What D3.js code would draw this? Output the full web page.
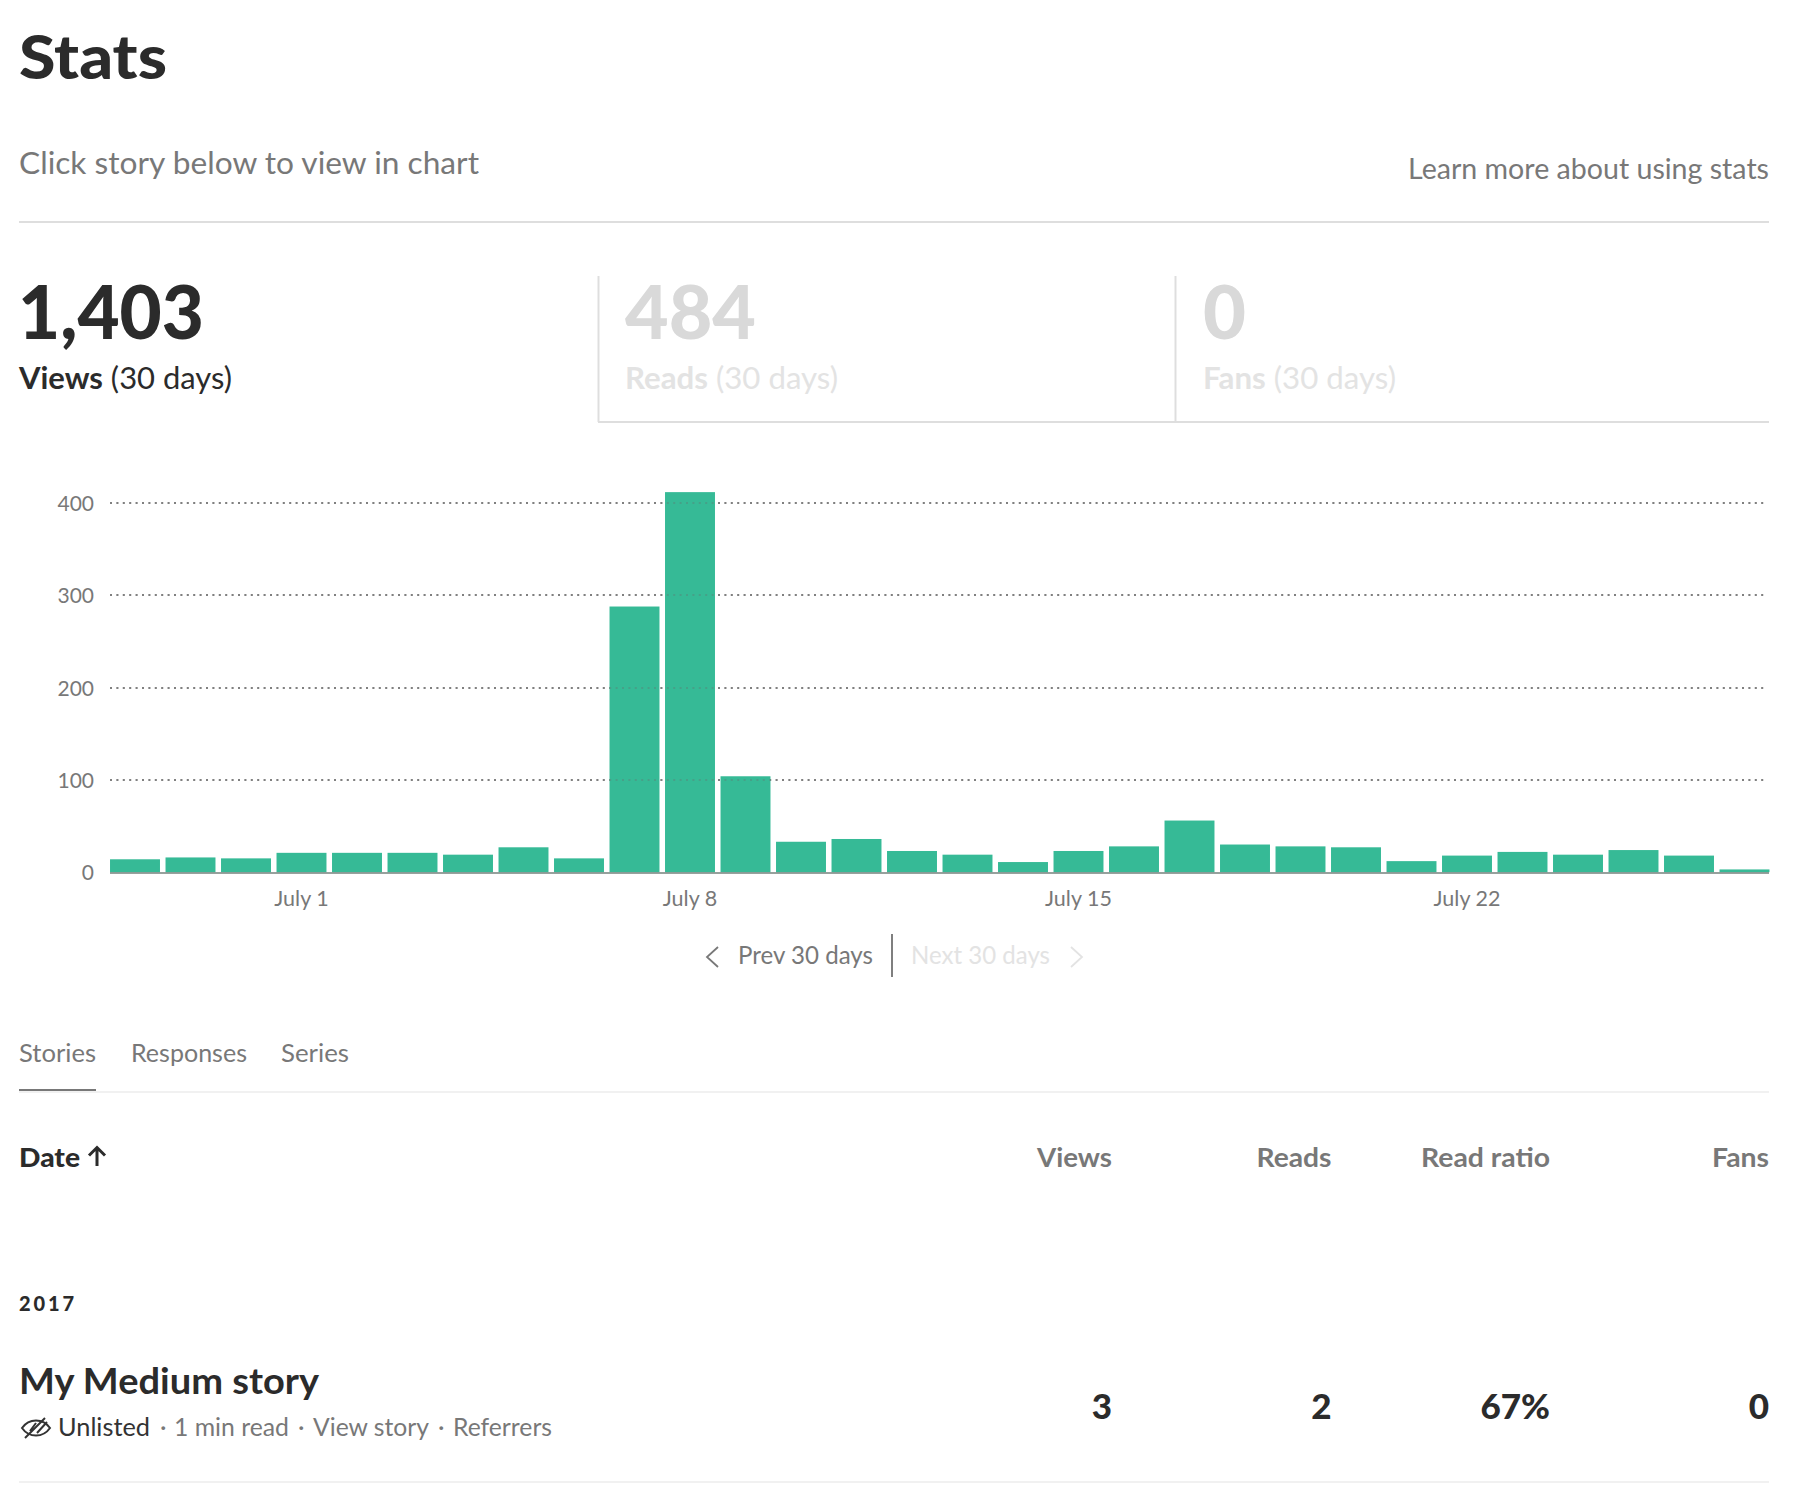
<!DOCTYPE html>
<html>
<head>
<meta charset="utf-8">
<script src="https://d3js.org/d3.v7.min.js"></script>
<style>
html,body{margin:0;padding:0;background:#fff;}
svg{display:block;}
text{font-family:Lato,"Open Sans",sans-serif;}
</style>
</head>
<body>
<script>
const days = ["June 28","June 29","June 30","July 1","July 2","July 3","July 4","July 5","July 6","July 7","July 8","July 9","July 10","July 11","July 12","July 13","July 14","July 15","July 16","July 17","July 18","July 19","July 20","July 21","July 22","July 23","July 24","July 25","July 26","July 27"];
const views = [14,16,15,21,21,21,19,27,15,288,412,104,33,36,23,19,11,23,28,56,30,28,27,12,18,22,19,24,18,3];
const yTicks = [0,100,200,300,400];
const xTicks = ["July 1","July 8","July 15","July 22"];
const tabs = ["Stories","Responses","Series"];
const columns = ["Views","Reads","Read ratio","Fans"];
const storyValues = ["3","2","67%","0"];

const W = 1806, H = 1486;
const DARK = "#2b2b2b", GREY = "#787878", FAINT = "#e3e3e3", RULE = "#dedede", GREEN = "#36ba96";

const svg = d3.select("body").append("svg").attr("width", W).attr("height", H).attr("viewBox", `0 0 ${W} ${H}`);

function label(s, x, y, size, fill, opt = {}) {
  const t = svg.append("text").attr("x", x).attr("y", y).text(s)
    .attr("font-size", size).attr("fill", fill)
    .attr("font-weight", opt.weight || 400)
    .attr("text-anchor", opt.anchor || "start");
  if (opt.width) t.attr("textLength", opt.width).attr("lengthAdjust", "spacingAndGlyphs");
  return t;
}
function rule(x1, y1, x2, y2, color, w = 2, op = 1) {
  svg.append("line").attr("x1", x1).attr("y1", y1).attr("x2", x2).attr("y2", y2)
    .attr("stroke", color).attr("stroke-width", w).attr("stroke-opacity", op);
}
function mixed(strong, rest, x, y, size, fill, width) {
  const t = label("", x, y, size, fill);
  t.append("tspan").attr("font-weight", 700).text(strong);
  t.append("tspan").text(rest);
  t.attr("textLength", width).attr("lengthAdjust", "spacingAndGlyphs");
}

// Header
label("Stats", 19, 79, 60, DARK, {weight: 900, width: 148});
label("Click story below to view in chart", 19, 174, 30, GREY, {width: 460});
label("Learn more about using stats", 1408, 179, 29, GREY, {width: 361});
rule(19, 222, 1769, 222, RULE);

// Stat panels
rule(598.5, 276, 598.5, 422, RULE);
rule(1175.5, 276, 1175.5, 422, RULE);
rule(598, 422, 1769, 422, RULE);
label("1,403", 18, 339, 75, DARK, {weight: 900, width: 186});
label("484", 625, 339, 75, "#d9d9d9", {weight: 900, width: 131});
label("0", 1203, 339, 75, "#d9d9d9", {weight: 900, width: 43});
mixed("Views", " (30 days)", 19, 389, 30, DARK, 213);
mixed("Reads", " (30 days)", 625, 389, 30, FAINT, 213);
mixed("Fans", " (30 days)", 1203, 389, 30, FAINT, 193);

// Chart
const x = d3.scaleBand().domain(days).range([107.25, 1772.25]).paddingInner(0.1).paddingOuter(0.05);
const y = d3.scaleLinear().domain([0, 400]).range([872.2, 503.2]);

function drawGrid(g, color) {
  g.selectAll("line").data(yTicks.filter(d => d > 0)).join("line")
    .attr("x1", 110).attr("x2", 1767)
    .attr("y1", d => Math.round(y(d))).attr("y2", d => Math.round(y(d)))
    .attr("stroke", color).attr("stroke-width", 2).attr("stroke-dasharray", "2 4.4");
}
drawGrid(svg.append("g"), "#8a8a8a");

svg.append("g").selectAll("rect").data(days).join("rect")
  .attr("x", d => x(d)).attr("width", x.bandwidth())
  .attr("y", (d, i) => y(views[i])).attr("height", (d, i) => y(0) - y(views[i]))
  .attr("fill", GREEN);

drawGrid(svg.append("g").attr("opacity", 0.3), "#6a6a6a");

const axisY = svg.append("g").attr("transform", "translate(94,-1.5)")
  .call(d3.axisLeft(y).tickValues(yTicks).tickSize(0).tickPadding(0));
axisY.select(".domain").remove();
axisY.selectAll("text").attr("font-size", 21).attr("fill", GREY).attr("dy", "0.42em").style("font-family", "Lato");

rule(110, 873, 1769, 873, "#5f6f69", 2, 0.65);
const axisX = svg.append("g").attr("transform", "translate(0,871)")
  .call(d3.axisBottom(x).tickValues(xTicks).tickSize(0).tickPadding(20));
axisX.select(".domain").remove();
axisX.selectAll("text").attr("font-size", 21.5).attr("fill", GREY).style("font-family", "Lato");

// Pager
label("Prev 30 days", 738, 964, 25, GREY, {width: 135});
label("Next 30 days", 911, 964, 25, FAINT, {width: 139});
rule(892, 934, 892, 977, "#7f7f7f", 2);
svg.append("path").attr("d", "M718 947 L707 957 L718 967").attr("fill", "none").attr("stroke", GREY).attr("stroke-width", 1.8);
svg.append("path").attr("d", "M1071 947 L1082 957 L1071 967").attr("fill", "none").attr("stroke", FAINT).attr("stroke-width", 1.8);

// Tabs
const tabX = [19, 131, 281], tabW = [77, 116, 68];
tabs.forEach((t, i) => label(t, tabX[i], 1062, 25, GREY, {width: tabW[i]}));
rule(19, 1092, 1769, 1092, "#f1f1f1");
rule(19, 1090, 96, 1090, GREY, 2);

// Table header
label("Date", 19, 1167, 27, DARK, {weight: 900, width: 61});
svg.append("path").attr("d", "M97 1166 V1147.5 M89 1155.5 L97 1147.5 L105 1155.5").attr("fill", "none").attr("stroke", DARK).attr("stroke-width", 3);
const colRight = [1112, 1331.5, 1550, 1769];
const colW = [75, 75, 129, 57];
columns.forEach((c, i) => label(c, colRight[i], 1167, 27, GREY, {weight: 700, anchor: "end", width: colW[i]}));

// Row
label("2017", 19, 1311, 20, DARK, {weight: 900, width: 55}).attr("lengthAdjust", "spacing");
label("My Medium story", 19, 1394, 36, DARK, {weight: 700, width: 300});
const eye = svg.append("g").attr("fill", "none").attr("stroke", "#333").attr("stroke-width", 2);
eye.append("path").attr("d", "M22 1428 C29 1418 43 1418 50 1428 C43 1438 29 1438 22 1428 Z");
eye.append("path").attr("d", "M25 1438 L45 1418 M37 1433 L47 1422 M36 1423 L30 1431");
label("Unlisted", 58, 1436, 25, "#333", {width: 92});
label("·", 160, 1436, 25, GREY);
label("1 min read", 174, 1436, 25, GREY, {width: 115});
label("·", 298, 1436, 25, GREY);
label("View story", 313, 1436, 25, GREY, {width: 116});
label("·", 438, 1436, 25, GREY);
label("Referrers", 453, 1436, 25, GREY, {width: 99});
storyValues.forEach((c, i) => label(c, colRight[i], 1419, 35, DARK, {weight: 900, anchor: "end"}));
rule(19, 1482, 1769, 1482, "#f1f1f1");
</script>
</body>
</html>
